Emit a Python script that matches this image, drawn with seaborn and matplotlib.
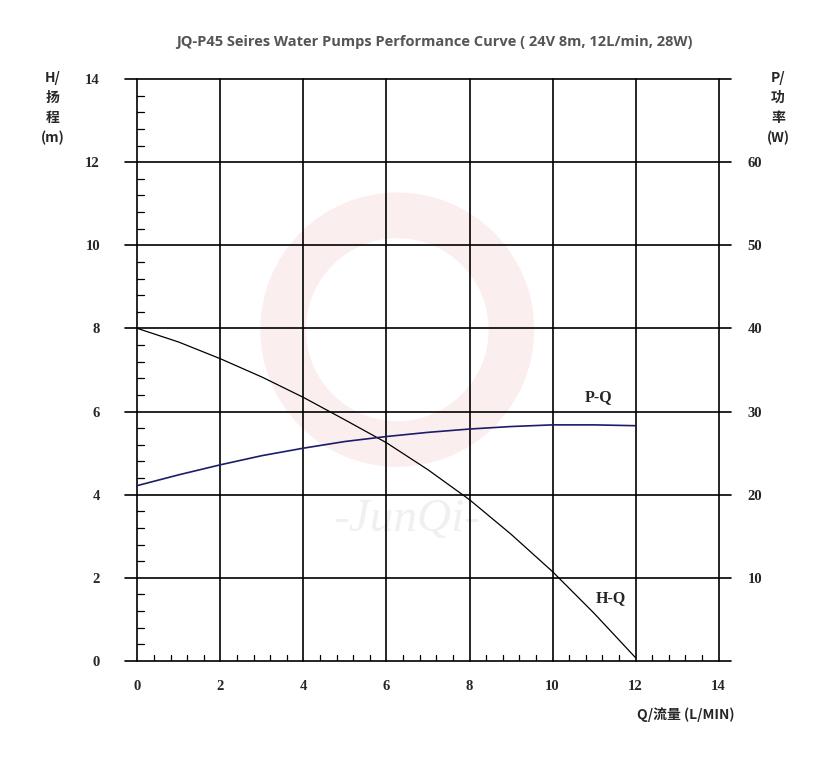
import matplotlib
matplotlib.use('Agg')
import matplotlib.pyplot as plt
from matplotlib.patches import Wedge
import numpy as np
import pandas as pd
import seaborn as sns

# ---- data ----
flow = [0, 1, 2, 3, 4, 5, 6, 7, 8, 9, 10, 11, 12]                      # Q, L/min
head = [8.0, 7.67, 7.27, 6.83, 6.34, 5.8, 5.25, 4.6, 3.88, 3.05, 2.15, 1.15, 0.08]  # H, m
power = [21.1, 22.4, 23.6, 24.7, 25.6, 26.4, 27.0, 27.5, 27.9, 28.2, 28.4, 28.4, 28.3]  # P, W

x_ticks = [0, 2, 4, 6, 8, 10, 12, 14]
h_ticks = [0, 2, 4, 6, 8, 10, 12, 14]
p_ticks = [10, 20, 30, 40, 50, 60]

df = pd.DataFrame({'Q': flow, 'H': head, 'P': power})

sns.set_style('white')
serif = ['Liberation Serif', 'Noto Sans CJK SC', 'DejaVu Sans']
cjk = ['Noto Sans CJK SC', 'DejaVu Sans']

fig = plt.figure(figsize=(8.17, 7.59), dpi=100)
ax = fig.add_axes([125 / 817, 1 - 661 / 759, 606 / 817, 582 / 759])
ax.set_xlim(-0.3, 14.3)
ax.set_ylim(0, 14)

# watermark (faint logo ring + text)
ax.add_patch(Wedge((6.26, 7.97), 3.3, 0, 360, width=1.1, color='#fbeaea', alpha=0.8, lw=0, zorder=0))
ax.text(6.5, 3.4, '-JunQi-', fontsize=34, style='italic', color='#f0f0f0',
        family='Liberation Serif', ha='center', va='center', zorder=0)

# grid
for v in x_ticks:
    ax.plot([v, v], [0, 14], color='black', lw=1.2, zorder=1, clip_on=False)
for v in h_ticks:
    ax.plot([-0.3, 14.3], [v, v], color='black', lw=1.2, zorder=1, clip_on=False)

for s in ax.spines.values():
    s.set_visible(False)

# minor ticks on the axes at x=0 and y=0
for v in np.arange(0, 14.01, 0.4):
    if abs(v / 2 - round(v / 2)) > 1e-6:
        ax.plot([v, v], [0, 0.15], color='black', lw=0.9, zorder=1)
        ax.plot([0, 0.15], [v, v], color='black', lw=0.9, zorder=1)

sns.lineplot(data=df, x='Q', y='H', ax=ax, color='black', lw=0.9, zorder=3)

ax.set_xticks(x_ticks)
ax.set_yticks(h_ticks)
ax.set_xticklabels([str(t) for t in x_ticks], family=serif, fontweight='bold', fontsize=10.5)
ax.set_yticklabels([str(t) for t in h_ticks], family=serif, fontweight='bold', fontsize=10.5)
ax.tick_params(axis='x', length=0, pad=14)
ax.tick_params(axis='y', length=0, pad=18)
ax.set_xlabel('')
ax.set_ylabel('')

ax2 = ax.twinx()
ax2.set_ylim(0, 70)
for s in ax2.spines.values():
    s.set_visible(False)
sns.lineplot(data=df, x='Q', y='P', ax=ax2, color='#1c1c6b', lw=1.2, zorder=3)
ax2.set_yticks(p_ticks)
ax2.set_yticklabels([str(t) for t in p_ticks], family=serif, fontweight='bold', fontsize=10.5)
ax2.tick_params(axis='y', length=0, pad=12)
ax2.set_ylabel('')
ax2.set_xlabel('')

# curve labels
ax.text(11.1, 6.35, 'P-Q', family=serif, fontweight='bold', fontsize=11.5, ha='center', va='center')
ax.text(11.4, 1.52, 'H-Q', family=serif, fontweight='bold', fontsize=11.5, ha='center', va='center')

# axis captions
for i, t in enumerate(['H/', '扬', '程', '(m)']):
    fig.text(53 / 817, 1 - (78 + 20 * i) / 759, t, family=cjk, fontweight='bold',
             fontsize=10, ha='center', va='center')
for i, t in enumerate(['P/', '功', '率', '(W)']):
    fig.text(778 / 817, 1 - (78 + 20 * i) / 759, t, family=cjk, fontweight='bold',
             fontsize=10, ha='center', va='center')
fig.text(686 / 817, 1 - 715 / 759, 'Q/流量 (L/MIN)', family=cjk, fontweight='bold',
         fontsize=10, ha='center', va='center')

fig.text(434 / 817, 1 - 42 / 759,
         'JQ-P45 Seires Water Pumps Performance Curve ( 24V 8m, 12L/min, 28W)',
         family=['Open Sans', 'DejaVu Sans'], fontweight='bold', fontsize=10.5,
         color='#555555', ha='center', va='center')

fig.savefig('out.png', dpi=100)
